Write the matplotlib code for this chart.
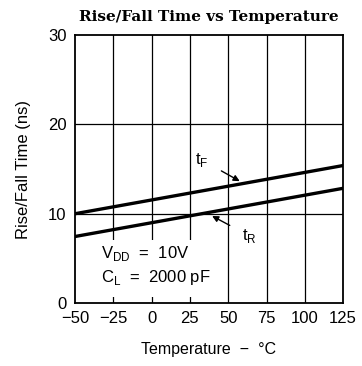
import matplotlib
matplotlib.use("Agg")
from matplotlib import pyplot as plt
from matplotlib.patches import Rectangle

temp = [-50, 125]
t_fall = [10.0, 15.4]
t_rise = [7.45, 12.85]

xticks = [-50, -25, 0, 25, 50, 75, 100, 125]
yticks = [0, 10, 20, 30]

plt.rcParams['font.family'] = ['Liberation Sans', 'DejaVu Sans']

fig = plt.figure(figsize=(3.62, 3.66), dpi=100)
ax = fig.add_axes([0.207, 0.172, 0.741, 0.732])

for x in xticks[1:-1]:
    ax.axvline(x, color='black', lw=0.9, zorder=1)
for y in yticks[1:-1]:
    ax.axhline(y, color='black', lw=0.9, zorder=1)

# white panel behind the conditions text, grid lines show only as stubs below it
ax.add_patch(Rectangle((-40, 0.7), 78, 6.4, facecolor='white', edgecolor='none', zorder=2))

ax.plot(temp, t_fall, color='black', lw=2.4, zorder=3)
ax.plot(temp, t_rise, color='black', lw=2.4, zorder=3)

ax.annotate('t$_\\mathregular{F}$', xy=(57.5, 13.65), xytext=(33, 16.0),
            fontsize=12, ha='center', va='center',
            arrowprops=dict(arrowstyle='-|>', color='black', lw=1.0,
                            shrinkA=8, shrinkB=0, mutation_scale=9))
ax.annotate('t$_\\mathregular{R}$', xy=(39.5, 9.75), xytext=(64, 7.5),
            fontsize=12, ha='center', va='center',
            arrowprops=dict(arrowstyle='-|>', color='black', lw=1.0,
                            shrinkA=8, shrinkB=0, mutation_scale=9))

ax.text(-33, 4.2, 'V$_\\mathregular{DD}$  =  10V\nC$_\\mathregular{L}$  =  2000 pF',
        fontsize=12, ha='left', va='center', linespacing=1.4, zorder=4)

ax.set_xlim(-50, 125)
ax.set_ylim(0, 30)
ax.set_xticks(xticks)
ax.set_yticks(yticks)
ax.tick_params(length=0, labelsize=12, pad=6)
for s in ax.spines.values():
    s.set_linewidth(1.3)
    s.set_zorder(5)

ax.set_xlabel('Temperature  \u2212  \u00b0C', fontsize=11.5, labelpad=11)
ax.set_ylabel('Rise/Fall Time (ns)', fontsize=12, labelpad=12)
ax.set_title('Rise/Fall Time vs Temperature', fontsize=11, fontweight='bold',
             family=['DejaVu Serif'], pad=10)

fig.savefig('out.png', dpi=100)
